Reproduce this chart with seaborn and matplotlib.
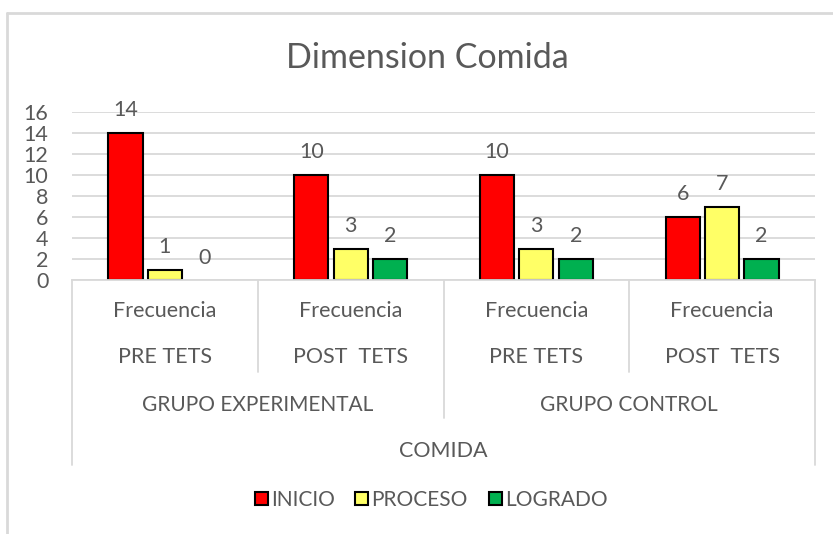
import pandas as pd
import matplotlib.pyplot as plt
import matplotlib.transforms as mtransforms
from matplotlib.lines import Line2D
import seaborn as sns

# data
grupos = ['GRUPO EXPERIMENTAL', 'GRUPO CONTROL']
momentos = ['PRE TETS', 'POST  TETS', 'PRE TETS', 'POST  TETS']
medida = 'Frecuencia'
dimension = 'COMIDA'
niveles = ['INICIO', 'PROCESO', 'LOGRADO']
inicio = [14, 10, 10, 6]
proceso = [1, 3, 3, 7]
logrado = [0, 2, 2, 2]
colores = ['#FF0000', '#FFFF66', '#00B050']
yticks = [0, 2, 4, 6, 8, 10, 12, 14, 16]

GRAY = '#595959'
LINE = '#D9D9D9'
FS = 15.5


def build_frame():
   keys = ['c%d' % i for i in range(len(momentos))]
   rows = []
   for nivel, vals in zip(niveles, [inicio, proceso, logrado]):
      for k, v in zip(keys, vals):
         rows.append({'cat': k, 'nivel': nivel, 'valor': v})
   return pd.DataFrame(rows), keys


def main():
   sns.set_theme(style='white')
   plt.rcParams['font.family'] = ['Lato', 'DejaVu Sans']
   W, H = 833, 534
   fig = plt.figure(figsize=(W / 100, H / 100), dpi=100)
   ax = fig.add_axes([72 / W, 1 - 280 / H, (815 - 72) / W, 168 / H])

   df, keys = build_frame()
   sns.barplot(data=df, x='cat', y='valor', hue='nivel', order=keys,
               hue_order=niveles, palette=colores, width=0.635, gap=0.13,
               edgecolor='black', linewidth=1.5, saturation=1, ax=ax,
               legend=True)

   for cont in ax.containers:
      for bar, v in zip(cont, cont.datavalues):
         if v == 0:
            bar.set_visible(False)
      ax.bar_label(cont, labels=['%d' % v for v in cont.datavalues],
                   padding=9, fontsize=FS, color=GRAY)

   ax.set_xlim(-0.5, len(keys) - 0.5)
   ax.set_ylim(0, 16)
   ax.set_yticks(yticks)
   ax.set_yticklabels([str(t) for t in yticks], fontsize=FS, color=GRAY)
   ax.tick_params(axis='y', length=0, pad=17)
   ax.set_xticks([])
   ax.set_xlabel('')
   ax.set_ylabel('')
   ax.yaxis.grid(True, color=LINE, linewidth=1.3)
   ax.set_axisbelow(True)
   for s in ['left', 'right', 'top']:
      ax.spines[s].set_visible(False)
   ax.spines['bottom'].set_color(LINE)
   ax.spines['bottom'].set_linewidth(1.3)

   # multi level category axis
   tr = mtransforms.blended_transform_factory(ax.transData, fig.transFigure)
   fy = lambda py: 1 - py / H
   for i, m in enumerate(momentos):
      ax.text(i, fy(311), medida, transform=tr, ha='center', va='center',
              fontsize=FS, color=GRAY)
      ax.text(i, fy(357), m, transform=tr, ha='center', va='center',
              fontsize=FS, color=GRAY)
   for j, g in enumerate(grupos):
      ax.text(2 * j + 0.5, fy(405), g, transform=tr, ha='center',
              va='center', fontsize=15, color=GRAY)
   ax.text(1.5, fy(451), dimension, transform=tr, ha='center', va='center',
           fontsize=FS, color=GRAY)
   for x, bottom in [(-0.5, 465), (0.5, 372), (1.5, 418), (2.5, 372),
                     (3.5, 465)]:
      ax.add_line(Line2D([x, x], [fy(280), fy(bottom)], transform=tr,
                         color=LINE, linewidth=1.3, clip_on=False))

   # legend
   leg = ax.legend(loc='center', bbox_to_anchor=(431 / W, fy(500)),
                   bbox_transform=fig.transFigure, ncol=3, frameon=False,
                   fontsize=15, handlelength=0.62, handleheight=0.62,
                   handletextpad=0.15, columnspacing=1.0)
   for t in leg.get_texts():
      t.set_color(GRAY)

   fig.text(427 / W, fy(58), 'Dimension Comida', ha='center', va='center',
            fontsize=24.5, color=GRAY)

   # chart frame (only top and left visible)
   fig.add_artist(Line2D([7 / W, 7 / W], [0, fy(13)], color=LINE,
                         linewidth=2, transform=fig.transFigure))
   fig.add_artist(Line2D([7 / W, 1], [fy(13), fy(13)], color=LINE,
                         linewidth=2, transform=fig.transFigure))

   fig.savefig('out.png', dpi=100)


if __name__ == '__main__':
   main()
